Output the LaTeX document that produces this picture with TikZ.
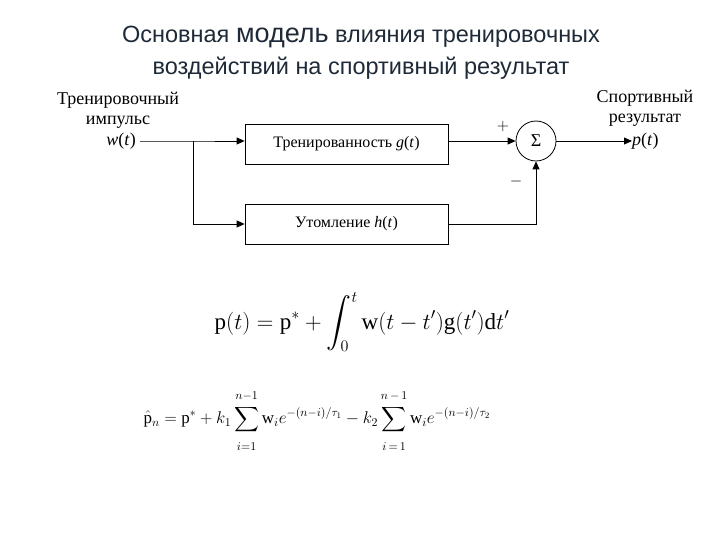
\RequirePackage{fix-cm}
\documentclass[tikz,border=0pt]{standalone}
\usepackage{amsmath}
\usepackage{fontspec}
\setmainfont{Liberation Serif}
\newfontfamily\titlefont{Liberation Sans}
\usetikzlibrary{arrows.meta}
\definecolor{titlecol}{HTML}{1F2A38}
\tikzset{
  block/.style={draw, thick, minimum width=203pt, minimum height=40pt, inner sep=0pt, font=\fontsize{16}{18}\selectfont},
  sumnode/.style={draw, thick, circle, minimum size=40pt, inner sep=0pt, font=\fontsize{18}{20}\selectfont},
  lbl/.style={align=center, font=\fontsize{18}{20}\selectfont, inner sep=0pt},
  sig/.style={thick, -{Triangle[length=8pt,width=7pt]}}
}
\newcommand{\lowlim}{\rule{0pt}{0.85em}}
\newcommand{\uplim}{\rule[-0.25em]{0pt}{0pt}}
\begin{document}
\begin{tikzpicture}[x=1pt,y=-1pt]
    \useasboundingbox (0,0) rectangle (720,540);
    % title
    \node[titlecol, font=\titlefont\fontsize{23.5}{26}\selectfont] (t1) at (361,37)
        {Основная {\fontsize{27}{26}\selectfont модель} влияния тренировочных};
    \node[titlecol, font=\titlefont\fontsize{23.5}{26}\selectfont] (t2) at (361,68)
        {воздействий на спортивный результат};
    % block diagram
    \node[lbl] (inlbl) at (118,110) {Тренировочный\\импульс};
    \node[lbl, anchor=east] (win) at (136,141) {\textit{w}(\textit{t})};
    \node[block] (gbox) at (346.5,144) {Тренированность \textit{g}(\textit{t})};
    \node[block] (hbox) at (346.5,224) {Утомление \textit{h}(\textit{t})};
    \node[sumnode] (sum) at (536,141) {Σ};
    \node[lbl] (outlbl) at (645,108) {Спортивный\\результат};
    \node[lbl, anchor=west] (pout) at (632,141) {\textit{p}(\textit{t})};
    \coordinate (split) at (193,141);
    \draw[sig] (win.east) ++(4,0) -- (split) -- (split -| gbox.west);
    \draw[sig] (split) |- (hbox.west);
    \draw[sig] (gbox.east |- sum) -- (sum.west);
    \draw[sig] (hbox.east) -| (sum.south);
    \draw[sig] (sum.east) -- (pout.west);
    \node[font=\fontsize{16}{18}\selectfont] (plus) at (503,127) {$+$};
    \node[font=\fontsize{16}{18}\selectfont] (minus) at (516,182) {$-$};
    % formulas
    \node[font=\fontsize{23}{26}\selectfont] (f1) at (362,322)
        {$\displaystyle \mathrm{p}(t)=\mathrm{p}^{*}+\int_{0}^{t}\mathrm{w}(t-t')\mathrm{g}(t')\mathrm{d}t'$};
    \node[font=\fontsize{17}{20}\selectfont] (f2) at (317,421)
        {$\displaystyle \hat{\mathrm{p}}_{n}=\mathrm{p}^{*}+k_{1}\sum_{\lowlim i=1}^{\uplim n-1}\mathrm{w}_{i}e^{-(n-i)/\tau_{1}}-k_{2}\sum_{\lowlim i\,=\,1}^{\uplim n\,-\,1}\mathrm{w}_{i}e^{-(n-i)/\tau_{2}}$};
\end{tikzpicture}
\end{document}
